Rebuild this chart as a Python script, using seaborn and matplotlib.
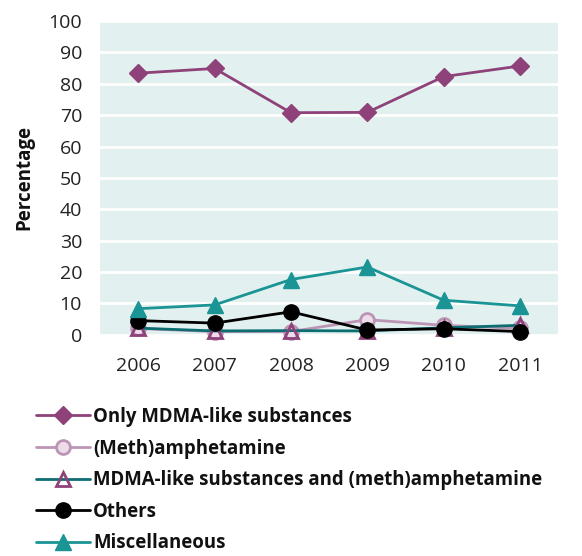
import matplotlib
matplotlib.use("Agg")
import matplotlib.pyplot as plt
import seaborn as sns
import pandas as pd

years = ["2006", "2007", "2008", "2009", "2010", "2011"]
only_mdma = [83.4, 84.9, 70.8, 70.9, 82.3, 85.7]
meth = [2.0, 1.0, 1.0, 4.8, 3.0, 2.0]
mdma_meth = [2.1, 1.2, 1.3, 1.2, 2.2, 3.0]
others = [4.5, 3.7, 7.3, 1.5, 1.9, 1.0]
misc = [8.3, 9.5, 17.6, 21.6, 11.0, 9.2]
series_names = ["Only MDMA-like substances", "(Meth)amphetamine",
                "MDMA-like substances and (meth)amphetamine", "Others", "Miscellaneous"]
yticks = list(range(0, 101, 10))

sns.set_theme(style="white")
plt.rcParams['font.family'] = ['Open Sans', 'DejaVu Sans']

fig = plt.figure(figsize=(5.82, 5.56), dpi=100)
ax = fig.add_axes([0.172, 0.398, 0.787, 0.564])
ax.set_facecolor("#E2F1F0")

styles = [
    dict(color="#8E4279", marker="D", mfc="#8E4279", mec="#8E4279", ms=9.5, mew=1),
    dict(color="#BC95B5", marker="o", mfc="#EDDCEA", mec="#BC95B5", ms=10, mew=2),
    dict(color="#0D6E72", marker="^", mfc="none", mec="#8E4279", ms=10, mew=2),
    dict(color="#000000", marker="o", mfc="#000000", mec="#000000", ms=11, mew=1),
    dict(color="#1A9494", marker="^", mfc="#1A9494", mec="#1A9494", ms=12, mew=1),
]
data = [only_mdma, meth, mdma_meth, others, misc]

for name, vals, st in zip(series_names, data, styles):
    df = pd.DataFrame({"year": years, "value": vals})
    sns.lineplot(data=df, x="year", y="value", ax=ax, label=name,
                 color=st["color"], marker=st["marker"], markersize=st["ms"],
                 markerfacecolor=st["mfc"], markeredgecolor=st["mec"],
                 markeredgewidth=st["mew"], linewidth=2, legend=False, clip_on=False)

ax.set_ylim(0, 100)
ax.set_xlim(-0.5, 5.5)
ax.set_yticks(yticks)
ax.yaxis.grid(True, color="white", linewidth=2)
ax.xaxis.grid(False)
ax.set_axisbelow(True)
for s in ax.spines.values():
    s.set_visible(False)
ax.tick_params(axis="both", length=0, labelsize=14, colors="#222222")
ax.tick_params(axis="x", pad=16)
ax.tick_params(axis="y", pad=13)
ax.set_xlabel("")
ax.set_ylabel("Percentage", fontsize=13.5, fontweight="bold", color="#111111", labelpad=10)

handles, labels = ax.get_legend_handles_labels()
leg = fig.legend(handles, labels, loc="upper left", bbox_to_anchor=(0.061, 0.268),
                 frameon=False, fontsize=13.4, handlelength=2.95, handletextpad=0.15,
                 labelspacing=0.62, borderaxespad=0, borderpad=0)
for t in leg.get_texts():
    t.set_fontweight("bold")
    t.set_color("#111111")

fig.savefig("out.png", dpi=100)
